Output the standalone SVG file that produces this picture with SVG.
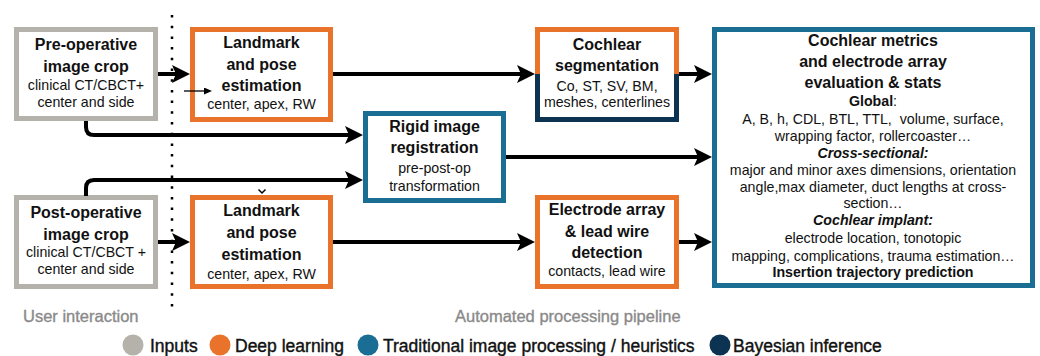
<svg xmlns="http://www.w3.org/2000/svg" width="1040" height="356" viewBox="0 0 1040 356">
<style>
.box{fill:#fff;stroke-width:5}
.in{stroke:#b4b2aa}
.dl{stroke:#e9732a}
.tr{stroke:#1b6e93}
.by{stroke:#0d3353}
text{font-family:"Liberation Sans",Arial,sans-serif;fill:#111;text-anchor:middle}
.h{font-size:16px;font-weight:bold}
.s{font-size:14.2px}
.b{font-weight:bold}
.bi{font-weight:bold;font-style:italic}
.lab{font-size:16.5px;fill:#8a8a8a;stroke:#8a8a8a;stroke-width:0.35;text-anchor:start}
.leg{font-size:17.5px;stroke:#111;stroke-width:0.4;text-anchor:start}
.conn{fill:none;stroke:#000;stroke-width:4}
</style>
<defs>
<marker id="ah" markerUnits="userSpaceOnUse" markerWidth="18" markerHeight="18" refX="4" refY="9" orient="auto">
<path d="M0,0 L18,9 L0,18 L4,9 z" fill="#000"/>
</marker>
<marker id="ahs" markerUnits="userSpaceOnUse" markerWidth="8" markerHeight="8" refX="2" refY="3.5" orient="auto">
<path d="M0,0 L8,3.5 L0,7 z" fill="#000"/>
</marker>
</defs>

<line x1="172" y1="15" x2="172" y2="308" stroke="#000" stroke-width="2.5" stroke-dasharray="2.5 8.2"/>

<g id="preop">
<rect class="box in" x="16.5" y="29.5" width="139" height="89"/>
<text class="h" x="86" y="50">Pre-operative</text>
<text class="h" x="86" y="72">image crop</text>
<text class="s" x="86" y="90">clinical CT/CBCT+</text>
<text class="s" x="86" y="107">center and side</text>
</g>

<g id="postop">
<rect class="box in" x="16.5" y="197.5" width="139" height="89"/>
<text class="h" x="86" y="218">Post-operative</text>
<text class="h" x="86" y="240">image crop</text>
<text class="s" x="86" y="257">clinical CT/CBCT +</text>
<text class="s" x="86" y="274">center and side</text>
</g>

<g id="landmark1">
<rect class="box dl" x="192.5" y="29.5" width="138" height="90"/>
<text class="h" x="261.5" y="48">Landmark</text>
<text class="h" x="261.5" y="69.5">and pose</text>
<text class="h" x="261.5" y="91">estimation</text>
<text class="s" x="261.5" y="109">center, apex, RW</text>
</g>

<g id="landmark2">
<rect class="box dl" x="192.5" y="197.5" width="138" height="89"/>
<text class="h" x="261.5" y="216">Landmark</text>
<text class="h" x="261.5" y="238">and pose</text>
<text class="h" x="261.5" y="260">estimation</text>
<text class="s" x="261.5" y="279">center, apex, RW</text>
</g>

<g id="segmentation">
<rect x="537.5" y="29.5" width="139" height="90" fill="#fff"/>
<path class="dl" d="M537.5,74 V29.5 H676.5 V74" fill="none" stroke-width="5"/>
<path class="by" d="M537.5,74 V119.5 H676.5 V74" fill="none" stroke-width="5"/>
<text class="h" x="607" y="50">Cochlear</text>
<text class="h" x="607" y="71">segmentation</text>
<text class="s" x="607" y="91">Co, ST, SV, BM,</text>
<text class="s" x="607" y="107">meshes, centerlines</text>
</g>

<g id="registration">
<rect class="box tr" x="365.5" y="113.5" width="138" height="87"/>
<text class="h" x="434.5" y="132">Rigid image</text>
<text class="h" x="434.5" y="153">registration</text>
<text class="s" x="434.5" y="173">pre-post-op</text>
<text class="s" x="434.5" y="191">transformation</text>
</g>

<g id="electrode">
<rect class="box dl" x="537.5" y="197.5" width="139" height="89"/>
<text class="h" x="607" y="215">Electrode array</text>
<text class="h" x="607" y="237">&amp; lead wire</text>
<text class="h" x="607" y="258">detection</text>
<text class="s" x="607" y="276">contacts, lead wire</text>
</g>

<g id="metrics">
<rect class="box tr" x="714.5" y="29.5" width="318" height="256"/>
<text class="h" x="873" y="46">Cochlear metrics</text>
<text class="h" x="873" y="67">and electrode array</text>
<text class="h" x="873" y="88">evaluation &amp; stats</text>
<text class="s" x="873" y="106"><tspan class="b">Global</tspan>:</text>
<text class="s" x="873" y="124" xml:space="preserve">A, B, h, CDL, BTL, TTL,  volume, surface,</text>
<text class="s" x="873" y="141">wrapping factor, rollercoaster…</text>
<text class="s bi" x="873" y="158">Cross-sectional:</text>
<text class="s" x="873" y="175">major and minor axes dimensions, orientation</text>
<text class="s" x="873" y="192">angle,max diameter, duct lengths at cross-</text>
<text class="s" x="873" y="208">section…</text>
<text class="s bi" x="873" y="225">Cochlear implant:</text>
<text class="s" x="873" y="243">electrode location, tonotopic</text>
<text class="s" x="873" y="261">mapping, complications, trauma estimation…</text>
<text class="s b" x="873" y="277">Insertion trajectory prediction</text>
</g>

<g id="connectors">
<path class="conn" d="M158,74 H176" marker-end="url(#ah)"/>
<path class="conn" d="M333,74 H521" marker-end="url(#ah)"/>
<path class="conn" d="M679,74 H698" marker-end="url(#ah)"/>
<path class="conn" d="M86,121 V127 Q86,135 94,135 H349" marker-end="url(#ah)"/>
<path class="conn" d="M86,196 V188 Q86,180 94,180 H349" marker-end="url(#ah)"/>
<path class="conn" d="M506,157 H698" marker-end="url(#ah)"/>
<path class="conn" d="M158,242 H176" marker-end="url(#ah)"/>
<path class="conn" d="M333,242 H521" marker-end="url(#ah)"/>
<path class="conn" d="M679,242 H698" marker-end="url(#ah)"/>
<path d="M184,91 H206" fill="none" stroke="#000" stroke-width="1.3" marker-end="url(#ahs)"/>
<path d="M258.5,189.5 L262,193 L265.5,189.5" fill="none" stroke="#000" stroke-width="1.5"/>
</g>

<g id="labels">
<text class="lab" x="23" y="322">User interaction</text>
<text class="lab" x="455" y="322">Automated processing pipeline</text>
</g>

<g id="legend">
<circle cx="133" cy="345" r="10.5" fill="#b4b2aa"/>
<text class="leg" x="150" y="352">Inputs</text>
<circle cx="220" cy="345" r="10.5" fill="#e9732a"/>
<text class="leg" x="235" y="352">Deep learning</text>
<circle cx="368" cy="345" r="10.5" fill="#1b6e93"/>
<text class="leg" x="383" y="352">Traditional image processing / heuristics</text>
<circle cx="720" cy="345" r="10.5" fill="#0d3353"/>
<text class="leg" x="733" y="352">Bayesian inference</text>
</g>
</svg>
